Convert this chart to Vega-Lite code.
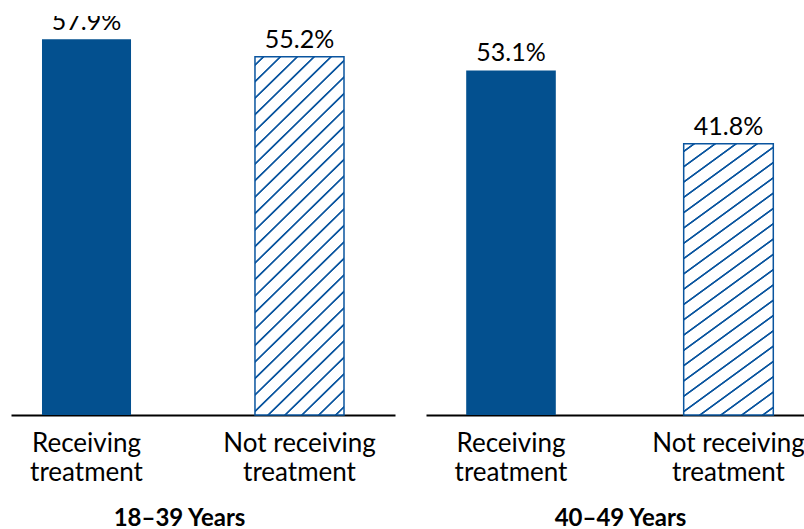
{
  "$schema": "https://vega.github.io/schema/vega-lite/v6.json",
  "description": "Share receiving vs not receiving treatment, by age group.",
  "padding": {"left": 11, "top": 16, "right": 0, "bottom": 0},
  "spacing": 31,
  "config": {
    "view": {"stroke": null},
    "font": "Lato",
    "axis": {"grid": false}
  },
  "datasets": {
    "rates": [
      {"age": "18–39 Years", "group": "Receiving treatment", "pct": 0.579},
      {"age": "18–39 Years", "group": "Not receiving treatment", "pct": 0.552},
      {"age": "40–49 Years", "group": "Receiving treatment", "pct": 0.531},
      {"age": "40–49 Years", "group": "Not receiving treatment", "pct": 0.418}
    ]
  },
  "hconcat": [
    {
      "width": 384,
      "height": 399,
      "data": {"name": "rates"},
      "transform": [{"filter": "datum.age == '18–39 Years'"}],
      "encoding": {
        "x": {
          "field": "group",
          "type": "nominal",
          "sort": ["Receiving treatment", "Not receiving treatment"],
          "scale": {"paddingInner": 0.582, "paddingOuter": 0.1925, "align": 0.378},
          "axis": {
            "title": "18–39 Years",
            "titleFont": "Lato",
            "titleFontSize": 24,
            "titleFontWeight": "bold",
            "titleColor": "#000",
            "titleX": 168,
            "titleY": 110,
            "titleAlign": "center",
            "titleBaseline": "alphabetic",
            "labelAngle": 0,
            "labelFontSize": 26,
            "labelColor": "#000",
            "labelLineHeight": 29,
            "labelPadding": 15,
            "labelExpr": "[replace(datum.label, ' treatment', ''), 'treatment']",
            "ticks": false,
            "domainColor": "#000",
            "domainWidth": 2
          }
        },
        "y": {
          "field": "pct",
          "type": "quantitative",
          "scale": {"domain": [0, 0.615], "nice": false},
          "axis": null
        }
      },
      "layer": [
        {
          "transform": [{"filter": "datum.group == 'Receiving treatment'"}],
          "mark": {"type": "bar", "color": "#03508f"}
        },
        {
          "transform": [{"filter": "datum.group == 'Not receiving treatment'"}],
          "mark": {
            "type": "bar",
            "stroke": "#0a559f",
            "strokeWidth": 1.5,
            "fill": {
              "gradient": "linear",
              "x1": 0, "y1": 0, "x2": 0.285, "y2": 1.174,
              "stops": [
                {"offset": 0, "color": "#ffffff"},
                {"offset": 0.0145, "color": "#ffffff"}, {"offset": 0.017, "color": "#0a559f"}, {"offset": 0.02, "color": "#0a559f"}, {"offset": 0.0225, "color": "#ffffff"},
                {"offset": 0.0516, "color": "#ffffff"}, {"offset": 0.0541, "color": "#0a559f"}, {"offset": 0.0571, "color": "#0a559f"}, {"offset": 0.0596, "color": "#ffffff"},
                {"offset": 0.0886, "color": "#ffffff"}, {"offset": 0.0911, "color": "#0a559f"}, {"offset": 0.0941, "color": "#0a559f"}, {"offset": 0.0966, "color": "#ffffff"},
                {"offset": 0.1256, "color": "#ffffff"}, {"offset": 0.1281, "color": "#0a559f"}, {"offset": 0.1311, "color": "#0a559f"}, {"offset": 0.1336, "color": "#ffffff"},
                {"offset": 0.1627, "color": "#ffffff"}, {"offset": 0.1652, "color": "#0a559f"}, {"offset": 0.1682, "color": "#0a559f"}, {"offset": 0.1707, "color": "#ffffff"},
                {"offset": 0.1997, "color": "#ffffff"}, {"offset": 0.2022, "color": "#0a559f"}, {"offset": 0.2052, "color": "#0a559f"}, {"offset": 0.2077, "color": "#ffffff"},
                {"offset": 0.2367, "color": "#ffffff"}, {"offset": 0.2392, "color": "#0a559f"}, {"offset": 0.2422, "color": "#0a559f"}, {"offset": 0.2447, "color": "#ffffff"},
                {"offset": 0.2738, "color": "#ffffff"}, {"offset": 0.2763, "color": "#0a559f"}, {"offset": 0.2793, "color": "#0a559f"}, {"offset": 0.2818, "color": "#ffffff"},
                {"offset": 0.3108, "color": "#ffffff"}, {"offset": 0.3133, "color": "#0a559f"}, {"offset": 0.3163, "color": "#0a559f"}, {"offset": 0.3188, "color": "#ffffff"},
                {"offset": 0.3479, "color": "#ffffff"}, {"offset": 0.3504, "color": "#0a559f"}, {"offset": 0.3534, "color": "#0a559f"}, {"offset": 0.3559, "color": "#ffffff"},
                {"offset": 0.3849, "color": "#ffffff"}, {"offset": 0.3874, "color": "#0a559f"}, {"offset": 0.3904, "color": "#0a559f"}, {"offset": 0.3929, "color": "#ffffff"},
                {"offset": 0.4219, "color": "#ffffff"}, {"offset": 0.4244, "color": "#0a559f"}, {"offset": 0.4274, "color": "#0a559f"}, {"offset": 0.4299, "color": "#ffffff"},
                {"offset": 0.459, "color": "#ffffff"}, {"offset": 0.4615, "color": "#0a559f"}, {"offset": 0.4645, "color": "#0a559f"}, {"offset": 0.467, "color": "#ffffff"},
                {"offset": 0.496, "color": "#ffffff"}, {"offset": 0.4985, "color": "#0a559f"}, {"offset": 0.5015, "color": "#0a559f"}, {"offset": 0.504, "color": "#ffffff"},
                {"offset": 0.533, "color": "#ffffff"}, {"offset": 0.5355, "color": "#0a559f"}, {"offset": 0.5385, "color": "#0a559f"}, {"offset": 0.541, "color": "#ffffff"},
                {"offset": 0.5701, "color": "#ffffff"}, {"offset": 0.5726, "color": "#0a559f"}, {"offset": 0.5756, "color": "#0a559f"}, {"offset": 0.5781, "color": "#ffffff"},
                {"offset": 0.6071, "color": "#ffffff"}, {"offset": 0.6096, "color": "#0a559f"}, {"offset": 0.6126, "color": "#0a559f"}, {"offset": 0.6151, "color": "#ffffff"},
                {"offset": 0.6441, "color": "#ffffff"}, {"offset": 0.6466, "color": "#0a559f"}, {"offset": 0.6496, "color": "#0a559f"}, {"offset": 0.6521, "color": "#ffffff"},
                {"offset": 0.6812, "color": "#ffffff"}, {"offset": 0.6837, "color": "#0a559f"}, {"offset": 0.6867, "color": "#0a559f"}, {"offset": 0.6892, "color": "#ffffff"},
                {"offset": 0.7182, "color": "#ffffff"}, {"offset": 0.7207, "color": "#0a559f"}, {"offset": 0.7237, "color": "#0a559f"}, {"offset": 0.7262, "color": "#ffffff"},
                {"offset": 0.7553, "color": "#ffffff"}, {"offset": 0.7578, "color": "#0a559f"}, {"offset": 0.7608, "color": "#0a559f"}, {"offset": 0.7633, "color": "#ffffff"},
                {"offset": 0.7923, "color": "#ffffff"}, {"offset": 0.7948, "color": "#0a559f"}, {"offset": 0.7978, "color": "#0a559f"}, {"offset": 0.8003, "color": "#ffffff"},
                {"offset": 0.8293, "color": "#ffffff"}, {"offset": 0.8318, "color": "#0a559f"}, {"offset": 0.8348, "color": "#0a559f"}, {"offset": 0.8373, "color": "#ffffff"},
                {"offset": 0.8664, "color": "#ffffff"}, {"offset": 0.8689, "color": "#0a559f"}, {"offset": 0.8719, "color": "#0a559f"}, {"offset": 0.8744, "color": "#ffffff"},
                {"offset": 0.9034, "color": "#ffffff"}, {"offset": 0.9059, "color": "#0a559f"}, {"offset": 0.9089, "color": "#0a559f"}, {"offset": 0.9114, "color": "#ffffff"},
                {"offset": 0.9404, "color": "#ffffff"}, {"offset": 0.9429, "color": "#0a559f"}, {"offset": 0.9459, "color": "#0a559f"}, {"offset": 0.9484, "color": "#ffffff"},
                {"offset": 0.9775, "color": "#ffffff"}, {"offset": 0.98, "color": "#0a559f"}, {"offset": 0.983, "color": "#0a559f"}, {"offset": 0.9855, "color": "#ffffff"},
                {"offset": 1, "color": "#ffffff"}
              ]
            }
          }
        },
        {
          "mark": {"type": "text", "dy": -9, "baseline": "alphabetic", "fontSize": 25, "color": "#000", "clip": true},
          "encoding": {"text": {"field": "pct", "type": "quantitative", "format": ".1%"}}
        }
      ]
    },
    {
      "width": 378,
      "height": 399,
      "data": {"name": "rates"},
      "transform": [{"filter": "datum.age == '40–49 Years'"}],
      "encoding": {
        "x": {
          "field": "group",
          "type": "nominal",
          "sort": ["Receiving treatment", "Not receiving treatment"],
          "scale": {"paddingInner": 0.588, "paddingOuter": 0.163, "align": 0.567},
          "axis": {
            "title": "40–49 Years",
            "titleFont": "Lato",
            "titleFontSize": 24,
            "titleFontWeight": "bold",
            "titleColor": "#000",
            "titleX": 194,
            "titleY": 110,
            "titleAlign": "center",
            "titleBaseline": "alphabetic",
            "labelAngle": 0,
            "labelFontSize": 26,
            "labelColor": "#000",
            "labelLineHeight": 29,
            "labelPadding": 15,
            "labelExpr": "[replace(datum.label, ' treatment', ''), 'treatment']",
            "ticks": false,
            "domainColor": "#000",
            "domainWidth": 2
          }
        },
        "y": {
          "field": "pct",
          "type": "quantitative",
          "scale": {"domain": [0, 0.615], "nice": false},
          "axis": null
        }
      },
      "layer": [
        {
          "transform": [{"filter": "datum.group == 'Receiving treatment'"}],
          "mark": {"type": "bar", "color": "#03508f"}
        },
        {
          "transform": [{"filter": "datum.group == 'Not receiving treatment'"}],
          "mark": {
            "type": "bar",
            "stroke": "#0a559f",
            "strokeWidth": 1.5,
            "fill": {
              "gradient": "linear",
              "x1": 0, "y1": 0, "x2": 0.283, "y2": 1.173,
              "stops": [
                {"offset": 0, "color": "#ffffff"},
                {"offset": 0.0182, "color": "#ffffff"}, {"offset": 0.0207, "color": "#0a559f"}, {"offset": 0.0247, "color": "#0a559f"}, {"offset": 0.0272, "color": "#ffffff"},
                {"offset": 0.0637, "color": "#ffffff"}, {"offset": 0.0662, "color": "#0a559f"}, {"offset": 0.0702, "color": "#0a559f"}, {"offset": 0.0727, "color": "#ffffff"},
                {"offset": 0.1091, "color": "#ffffff"}, {"offset": 0.1116, "color": "#0a559f"}, {"offset": 0.1156, "color": "#0a559f"}, {"offset": 0.1181, "color": "#ffffff"},
                {"offset": 0.1546, "color": "#ffffff"}, {"offset": 0.1571, "color": "#0a559f"}, {"offset": 0.1611, "color": "#0a559f"}, {"offset": 0.1636, "color": "#ffffff"},
                {"offset": 0.2, "color": "#ffffff"}, {"offset": 0.2025, "color": "#0a559f"}, {"offset": 0.2065, "color": "#0a559f"}, {"offset": 0.209, "color": "#ffffff"},
                {"offset": 0.2455, "color": "#ffffff"}, {"offset": 0.248, "color": "#0a559f"}, {"offset": 0.252, "color": "#0a559f"}, {"offset": 0.2545, "color": "#ffffff"},
                {"offset": 0.291, "color": "#ffffff"}, {"offset": 0.2935, "color": "#0a559f"}, {"offset": 0.2975, "color": "#0a559f"}, {"offset": 0.3, "color": "#ffffff"},
                {"offset": 0.3364, "color": "#ffffff"}, {"offset": 0.3389, "color": "#0a559f"}, {"offset": 0.3429, "color": "#0a559f"}, {"offset": 0.3454, "color": "#ffffff"},
                {"offset": 0.3819, "color": "#ffffff"}, {"offset": 0.3844, "color": "#0a559f"}, {"offset": 0.3884, "color": "#0a559f"}, {"offset": 0.3909, "color": "#ffffff"},
                {"offset": 0.4273, "color": "#ffffff"}, {"offset": 0.4298, "color": "#0a559f"}, {"offset": 0.4338, "color": "#0a559f"}, {"offset": 0.4363, "color": "#ffffff"},
                {"offset": 0.4728, "color": "#ffffff"}, {"offset": 0.4753, "color": "#0a559f"}, {"offset": 0.4793, "color": "#0a559f"}, {"offset": 0.4818, "color": "#ffffff"},
                {"offset": 0.5182, "color": "#ffffff"}, {"offset": 0.5207, "color": "#0a559f"}, {"offset": 0.5247, "color": "#0a559f"}, {"offset": 0.5272, "color": "#ffffff"},
                {"offset": 0.5637, "color": "#ffffff"}, {"offset": 0.5662, "color": "#0a559f"}, {"offset": 0.5702, "color": "#0a559f"}, {"offset": 0.5727, "color": "#ffffff"},
                {"offset": 0.6091, "color": "#ffffff"}, {"offset": 0.6116, "color": "#0a559f"}, {"offset": 0.6156, "color": "#0a559f"}, {"offset": 0.6181, "color": "#ffffff"},
                {"offset": 0.6546, "color": "#ffffff"}, {"offset": 0.6571, "color": "#0a559f"}, {"offset": 0.6611, "color": "#0a559f"}, {"offset": 0.6636, "color": "#ffffff"},
                {"offset": 0.7, "color": "#ffffff"}, {"offset": 0.7025, "color": "#0a559f"}, {"offset": 0.7065, "color": "#0a559f"}, {"offset": 0.709, "color": "#ffffff"},
                {"offset": 0.7455, "color": "#ffffff"}, {"offset": 0.748, "color": "#0a559f"}, {"offset": 0.752, "color": "#0a559f"}, {"offset": 0.7545, "color": "#ffffff"},
                {"offset": 0.791, "color": "#ffffff"}, {"offset": 0.7935, "color": "#0a559f"}, {"offset": 0.7975, "color": "#0a559f"}, {"offset": 0.8, "color": "#ffffff"},
                {"offset": 0.8364, "color": "#ffffff"}, {"offset": 0.8389, "color": "#0a559f"}, {"offset": 0.8429, "color": "#0a559f"}, {"offset": 0.8454, "color": "#ffffff"},
                {"offset": 0.8819, "color": "#ffffff"}, {"offset": 0.8844, "color": "#0a559f"}, {"offset": 0.8884, "color": "#0a559f"}, {"offset": 0.8909, "color": "#ffffff"},
                {"offset": 0.9273, "color": "#ffffff"}, {"offset": 0.9298, "color": "#0a559f"}, {"offset": 0.9338, "color": "#0a559f"}, {"offset": 0.9363, "color": "#ffffff"},
                {"offset": 0.9728, "color": "#ffffff"}, {"offset": 0.9753, "color": "#0a559f"}, {"offset": 0.9793, "color": "#0a559f"}, {"offset": 0.9818, "color": "#ffffff"},
                {"offset": 1, "color": "#ffffff"}
              ]
            }
          }
        },
        {
          "mark": {"type": "text", "dy": -9, "baseline": "alphabetic", "fontSize": 25, "color": "#000", "clip": true},
          "encoding": {"text": {"field": "pct", "type": "quantitative", "format": ".1%"}}
        }
      ]
    }
  ]
}
